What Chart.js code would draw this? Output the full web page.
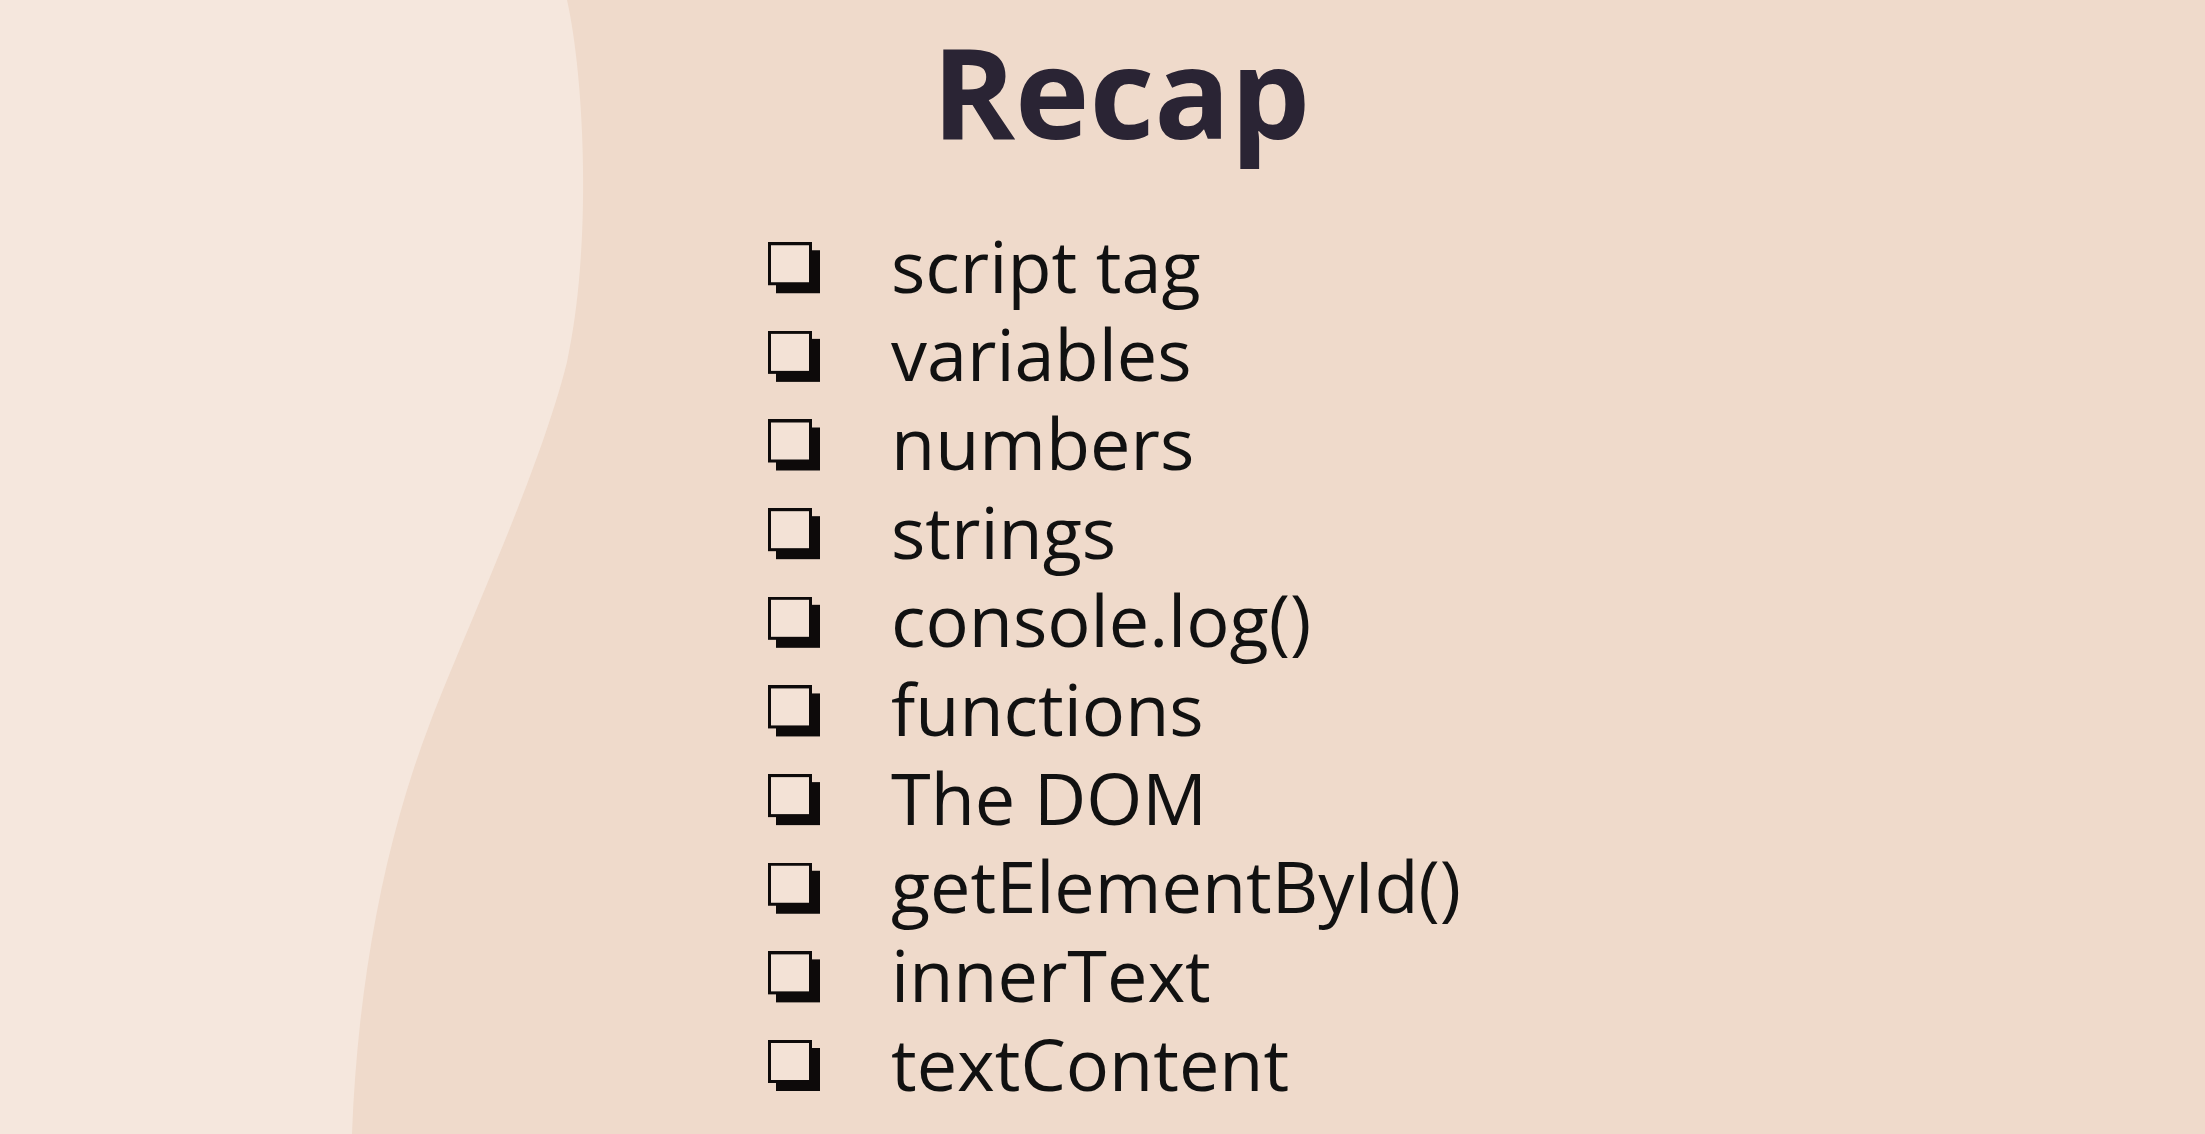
<!DOCTYPE html>
<html lang="en">

<head>
    <meta charset="UTF-8">
    <title>Recap</title>
    <script src="https://cdn.jsdelivr.net/npm/chart.js"></script>

    <style>
        html, body {
            margin: 0;
            padding: 0;
            background-color: #efdacb;
            overflow: hidden;
        }

        canvas {
            display: block;
        }
    </style>
</head>

<body>
    <canvas id="recapChart" width="2205" height="1134"></canvas>

    <script>
        // slide content
        const titleText = 'Recap';
        const recapItems = [
            'script tag',
            'variables',
            'numbers',
            'strings',
            'console.log()',
            'functions',
            'The DOM',
            'getElementById()',
            'innerText',
            'textContent'
        ];
        const boxColumn = ['box'];

        // checkbox glyph with a hard shadow at bottom right
        // (drawn in the upper part so it sits on the text baseline)
        function makeCheckbox() {
            const c = document.createElement('canvas');
            c.width = 52;
            c.height = 60;
            const g = c.getContext('2d');
            g.fillStyle = '#0d0a0a';
            g.fillRect(8, 8, 44, 43);
            g.fillStyle = '#f3e2d6';
            g.fillRect(0, 0, 44, 43);
            g.strokeStyle = '#0d0a0a';
            g.lineWidth = 3;
            g.strokeRect(1.5, 1.5, 41, 40);
            return c;
        }

        // two-tone slide background with the wavy light band on the left
        const slideBackground = {
            id: 'slideBackground',
            beforeDraw(chart) {
                const ctx = chart.ctx;
                ctx.save();
                ctx.fillStyle = '#efdacb';
                ctx.fillRect(0, 0, chart.width, chart.height);
                ctx.fillStyle = '#f5e7dd';
                ctx.beginPath();
                ctx.moveTo(0, 0);
                ctx.lineTo(567, 0);
                ctx.bezierCurveTo(585, 80, 592, 250, 567, 362);
                ctx.bezierCurveTo(540, 470, 470, 620, 430, 723);
                ctx.bezierCurveTo(385, 840, 358, 980, 352, 1134);
                ctx.lineTo(0, 1134);
                ctx.closePath();
                ctx.fill();
                ctx.restore();
            }
        };

        const checkbox = makeCheckbox();

        new Chart(document.getElementById('recapChart'), {
            type: 'scatter',
            data: {
                datasets: [{
                    label: 'items',
                    data: recapItems.map(item => ({ x: boxColumn[0], y: item })),
                    pointStyle: checkbox,
                    pointRadius: 30,
                    pointHoverRadius: 30
                }]
            },
            options: {
                responsive: false,
                devicePixelRatio: 1,
                animation: false,
                layout: {
                    padding: { left: 703, right: 666, top: 0, bottom: 64 }
                },
                plugins: {
                    legend: { display: false },
                    tooltip: { enabled: false },
                    title: {
                        display: true,
                        text: titleText,
                        color: '#2a2434',
                        font: { family: 'Open Sans', size: 126, weight: 'bold', lineHeight: 1.2 },
                        padding: { top: 28, bottom: 93 }
                    }
                },
                scales: {
                    x: {
                        type: 'category',
                        labels: boxColumn,
                        offset: true,
                        display: false
                    },
                    y: {
                        type: 'category',
                        labels: recapItems,
                        position: 'right',
                        offset: false,
                        grid: { display: false, drawTicks: false },
                        border: { display: false },
                        ticks: {
                            autoSkip: false,
                            padding: 6,
                            color: '#111111',
                            font: { family: 'Open Sans', size: 72 }
                        },
                        afterFit: scale => { scale.width = 654; }
                    }
                }
            },
            plugins: [slideBackground]
        });
    </script>
</body>

</html>
